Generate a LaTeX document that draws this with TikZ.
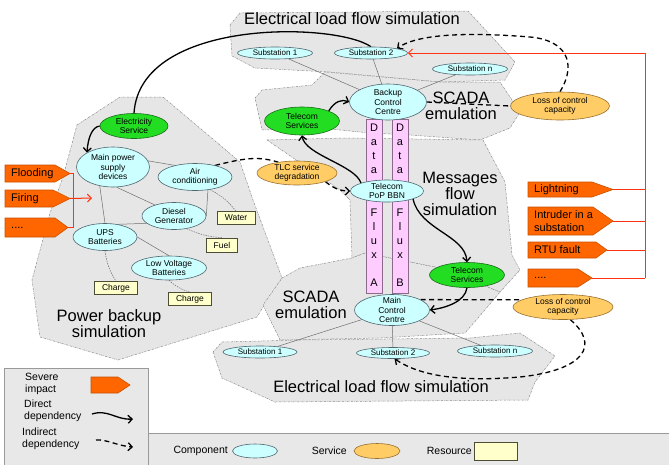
\documentclass[tikz,border=0pt]{standalone}
\usepackage{fontspec}
\setmainfont{Liberation Sans}
\usetikzlibrary{shapes.geometric,arrows.meta}

\definecolor{regionfill}{HTML}{E6E6E6}
\definecolor{regionline}{HTML}{8A8A8A}
\definecolor{compfill}{HTML}{CCFFFF}
\definecolor{compline}{HTML}{4F6670}
\definecolor{svcgreen}{HTML}{22DD22}
\definecolor{svcgreenline}{HTML}{1A6B1A}
\definecolor{svcorange}{HTML}{FFCC66}
\definecolor{svcorangeline}{HTML}{9A7030}
\definecolor{resfill}{HTML}{FFFFCC}
\definecolor{resline}{HTML}{4D4D33}
\definecolor{evtfill}{HTML}{FF6600}
\definecolor{evtline}{HTML}{C85000}
\definecolor{flowfill}{HTML}{FFCCFF}
\definecolor{flowline}{HTML}{8C6A8C}
\definecolor{threat}{HTML}{FF3311}
\definecolor{legfill}{HTML}{E8E8E8}
\definecolor{legline}{HTML}{999999}
\definecolor{linkgrey}{HTML}{6E6E6E}

\pgfdeclarelayer{regions}
\pgfdeclarelayer{links}
\pgfsetlayers{regions,links,main}

% threat event: name, left x, corner x, tip x, top y, bottom y, label
\newcommand\threatbox[7]{%
  \filldraw[evtbox] (#2,#5) -- (#3,#5) -- (#4,{(#5+#6)/2}) -- (#3,#6) -- (#2,#6) -- cycle;
  \node[evttext] (#1) at (#2+6,{(#5+#6)/2}) {#7};
  \coordinate (#1-tip) at (#4,{(#5+#6)/2});
}

\begin{document}
\begin{tikzpicture}[x=1pt,y=-1pt,
  region/.style={fill=regionfill, draw=regionline, line width=0.5pt, dash pattern=on 2pt off 1pt on 0.5pt off 1pt},
  regtitle/.style={font=\fontsize{16.5}{16}\selectfont, align=center, inner sep=0pt},
  comp/.style={ellipse, draw=compline, fill=compfill, line width=0.6pt, inner sep=-4pt, align=center, font=\fontsize{8.5}{9.5}\selectfont},
  subst/.style={comp, font=\fontsize{8}{9}\selectfont},
  greensvc/.style={comp, fill=svcgreen, draw=svcgreenline},
  orangesvc/.style={comp, fill=svcorange, draw=svcorangeline},
  resource/.style={rectangle, draw=resline, fill=resfill, line width=0.6pt, inner sep=0pt, font=\fontsize{8.5}{9.5}\selectfont},
  sz/.style 2 args={minimum width=#1pt, minimum height=#2pt},
  flowbar/.style={rectangle, draw=flowline, fill=flowfill, line width=0.6pt, inner sep=0pt},
  flowtext/.style={align=center, inner sep=0pt, font=\fontsize{11}{14}\selectfont},
  evtbox/.style={fill=evtfill, draw=evtline, line width=0.6pt},
  evttext/.style={anchor=west, align=left, inner sep=0pt, font=\fontsize{11}{12.5}\selectfont},
  link/.style={draw=linkgrey, line width=0.5pt},
  reslink/.style={draw=linkgrey, line width=0.5pt, dash pattern=on 1.5pt off 1pt},
  direct/.style={line width=1.3pt, -{Straight Barb[length=4pt,width=8pt]}},
  plaindirect/.style={line width=1.3pt},
  indirect/.style={line width=1.3pt, dash pattern=on 5pt off 3.5pt, -{Straight Barb[length=4pt,width=8pt]}},
  plainindirect/.style={line width=1.3pt, dash pattern=on 5pt off 3.5pt},
  threatline/.style={draw=threat, line width=1pt},
  legframe/.style={rectangle, draw=legline, fill=legfill, line width=0.8pt, inner sep=0pt},
  legtext/.style={anchor=west, align=left, inner sep=0pt, font=\fontsize{10.5}{12.5}\selectfont},
]
\useasboundingbox (0,0) rectangle (669,464);

% ---------- simulation domains ----------
\begin{pgfonlayer}{regions}
  % power backup
  \filldraw[region] (77,125) -- (120,97) -- (163,97) -- (240,162) -- (253,200) -- (282,278)
    -- (263,307) -- (257,317) -- (118,360) -- (40,337) -- (32,280) -- (50,213) -- (63,177) -- cycle;
  % electrical load flow (top)
  \filldraw[region] (230,25) -- (240,13) -- (468,11) -- (515,62) -- (505,80) -- (440,82)
    -- (330,72) -- (255,68) -- (232,56) -- cycle;
  % SCADA (top)
  \filldraw[region] (255,98) -- (262,90) -- (312,85) -- (325,72) -- (440,82) -- (500,82)
    -- (520,112) -- (510,128) -- (480,140) -- (410,135) -- (370,133) -- (320,128) -- (262,130) -- cycle;
  % messages flow
  \filldraw[region] (267,140) -- (345,138) -- (483,140) -- (505,182) -- (512,255) -- (520,270)
    -- (500,292) -- (440,268) -- (365,253) -- (352,258) -- (350,200) -- (340,190) -- cycle;
  % SCADA (bottom)
  \filldraw[region] (282,278) -- (300,268) -- (352,258) -- (365,253) -- (440,268) -- (500,292)
    -- (478,318) -- (465,333) -- (380,338) -- (280,340) -- (263,305) -- cycle;
  % electrical load flow (bottom)
  \filldraw[region] (213,352) -- (222,342) -- (300,340) -- (470,338) -- (520,333) -- (555,356)
    -- (535,382) -- (528,400) -- (275,402) -- (222,378) -- cycle;

  \node[regtitle] (ttop) at (352,19) {Electrical load flow simulation};
  \node[regtitle] (tscadau) at (461,106) {SCADA\\emulation};
  \node[regtitle] (tmsg) at (460,194) {Messages\\flow\\simulation};
  \node[regtitle] (tpower) at (109,324) {Power backup\\simulation};
  \node[regtitle] (tscadal) at (311,305) {SCADA\\emulation};
  \node[regtitle] (tbot) at (381,387) {Electrical load flow simulation};
\end{pgfonlayer}

% ---------- data flux columns ----------
\node[flowbar, sz={16}{174}] (fluxA) at (374,206) {};
\node[flowbar, sz={16}{174}] (fluxB) at (400,206) {};
\node[flowtext] (dataA) at (374,149) {D\\a\\t\\a};
\node[flowtext] (dataB) at (400,149) {D\\a\\t\\a};
\node[flowtext] (fxA) at (374,234) {F\\l\\u\\x};
\node[flowtext] (fxB) at (400,234) {F\\l\\u\\x};
\node[flowtext] (lblA) at (374,283) {A};
\node[flowtext] (lblB) at (400,283) {B};

% ---------- components ----------
\node[subst, sz={75}{12}] (s1t) at (275,53) {Substation 1};
\node[subst, sz={73}{12}] (s2t) at (371,53) {Substation 2};
\node[subst, sz={75}{12}] (snt) at (470,69) {Substation n};
\node[comp, sz={77}{36}] (bcc) at (388,102) {Backup\\Control\\Centre};
\node[comp, sz={73}{22}] (pop) at (387,191) {Telecom\\PoP BBN};
\node[comp, sz={75}{31}] (mcc) at (392,310) {Main\\Control\\Centre};
\node[subst, sz={74}{12}] (s1b) at (260,352) {Substation 1};
\node[subst, sz={73}{11}] (s2b) at (393,353) {Substation 2};
\node[subst, sz={75}{12}] (snb) at (495,351) {Substation n};

\node[comp, sz={73}{40}] (mpsd) at (113,167) {Main power\\supply\\devices};
\node[comp, sz={74}{27}] (airc) at (195,177) {Air\\conditioning};
\node[comp, sz={64}{27}] (dsl) at (174,216) {Diesel\\Generator};
\node[comp, sz={64}{27}] (ups) at (105,237) {UPS\\Batteries};
\node[comp, sz={75}{24}] (lvb) at (169,268) {Low Voltage\\Batteries};

% ---------- services ----------
\node[greensvc, sz={68}{25}] (elec) at (134,126) {Electricity\\Service};
\node[greensvc, sz={75}{28}] (tsu) at (302,121) {Telecom\\Services};
\node[greensvc, sz={75}{25}] (tsl) at (467,275) {Telecom\\Services};
\node[orangesvc, sz={80}{24}] (tlc) at (297,173) {TLC service\\degradation};
\node[orangesvc, sz={99}{28}] (lossu) at (560,106) {Loss of control\\capacity};
\node[orangesvc, sz={100}{25}] (lossl) at (563,307) {Loss of control\\capacity};

% ---------- resources ----------
\node[resource, sz={38}{13}] (water) at (236,218) {Water};
\node[resource, sz={31}{14}] (fuel) at (222,245) {Fuel};
\node[resource, sz={43}{13}] (chg1) at (116,288) {Charge};
\node[resource, sz={43}{13}] (chg2) at (190,299) {Charge};

% ---------- threat events ----------
\threatbox{flood}{5}{55}{70}{165}{182}{Flooding}
\threatbox{fire}{5}{53}{70}{190}{207}{Firing}
\threatbox{ldots}{5}{55}{68}{218}{237}{....}
\threatbox{light}{528}{592}{613}{182}{197}{Lightning}
\threatbox{intr}{528}{593}{613}{207}{235}{Intruder in a\\substation}
\threatbox{rtu}{528}{596}{607}{242}{258}{RTU fault}
\threatbox{rdots}{528}{578}{592}{269}{287}{....}

\coordinate (lbus) at (73,198);
\coordinate (lhit) at (92,198);
\coordinate (rtop) at (645,53);
\coordinate (rbot) at (645,278);

% ---------- connectors ----------
\begin{pgfonlayer}{links}
  % physical links
  \draw[link] (s1t) -- (bcc);
  \draw[link] (s2t) -- (bcc);
  \draw[link] (snt) -- (bcc);
  \draw[link] (mcc) -- (s1b);
  \draw[link] (mcc) -- (s2b);
  \draw[link] (mcc) -- (snb);
  \draw[link] (mpsd.10) -- (airc.150);
  \draw[link] (mpsd.-80) -- (dsl.150);
  \draw[link] (mpsd.235) -- (ups.north);
  \draw[link] (airc.-45) -- (dsl.east);
  \draw[link] (dsl.195) -- (ups.45);
  \draw[link] (ups.east) -- (lvb.north);
  % resource usage
  \draw[reslink] (airc.-40) to[bend left=12] (water.north);
  \draw[reslink] (dsl.-45) to[bend right=10] (fuel.north);
  \draw[reslink] (ups.south) to[bend right=12] (chg1.north);
  \draw[reslink] (lvb.south) to[bend right=12] (chg2.north);

  % direct dependencies
  \draw[plaindirect] (s2t.north) .. controls (335,22) and (140,18) .. (elec.north);
  \draw[direct] (elec.west) .. controls (92,127) and (88,138) .. (mpsd.north west);
  \draw[direct] (pop.north west) .. controls (355,165) and (305,155) .. (tsu.south);
  \draw[direct] (tsu.north east) .. controls (335,101) and (342,99) .. (bcc.west);
  \draw[direct] (pop.south east) .. controls (420,230) and (465,235) .. (tsl.north);
  \draw[direct] (tsl.south) .. controls (465,302) and (445,308) .. (mcc.east);

  % indirect dependencies
  \draw[indirect] (lossu.north) .. controls (578,62) and (565,40) .. (530,37)
    .. controls (480,33) and (420,32) .. (s2t.north east);
  \draw[plainindirect] (bcc.east) -- (lossu.west);
  \draw[plainindirect] (airc.30) .. controls (245,158) and (258,156) .. (tlc.150);
  \draw[indirect] (tlc.south east) .. controls (333,188) and (340,191) .. (pop.west);
  \draw[plainindirect] (mcc.20) -- (lossl.170);
  \draw[indirect] (lossl.-60) .. controls (600,345) and (585,370) .. (520,377)
    .. controls (460,382) and (420,376) .. (s2b.-75);

  % threat propagation
  \draw[threatline] (flood-tip) -- (flood-tip -| lbus) -- (ldots-tip -| lbus) -- (ldots-tip);
  \draw[threatline, -{Straight Barb[length=4pt,width=8pt]}] (fire-tip) -- (lhit);
  \draw[threatline] (rtop) -- (rbot);
  \draw[threatline, -{Straight Barb[length=4pt,width=8pt]}] (rtop) -- (s2t.east);
  \foreach \e in {light,intr,rtu,rdots}
    \draw[threatline] (\e-tip) -- (\e-tip -| rtop);
\end{pgfonlayer}

% ---------- legend ----------
\node[legframe, anchor=north west, sz={144}{100}] (legL) at (4,368) {};
\node[legframe, anchor=north west, sz={524}{34}] (legB) at (148,433) {};
\node[legtext] (lgsev) at (25,384) {Severe\\impact};
\threatbox{lgevt}{91}{118}{130}{377}{393}{}
\node[legtext] (lgdir) at (24,411) {Direct\\dependency};
\coordinate (ldA) at (92,414);
\coordinate (ldB) at (133,419);
\draw[direct] (ldA) .. controls (108,409) and (116,420) .. (ldB);
\node[legtext] (lgind) at (22,439) {Indirect\\dependency};
\coordinate (liA) at (96,440);
\coordinate (liB) at (133,447);
\draw[indirect] (liA) .. controls (106,439) and (118,446) .. (liB);

\node[legtext, anchor=east] (lgcomp) at (228,451) {Component};
\node[comp, sz={45}{14}] (lgcompshape) at (255,451) {};
\node[legtext, anchor=east] (lgsvc) at (347,451) {Service};
\node[orangesvc, sz={46}{15}] (lgsvcshape) at (377,451) {};
\node[legtext, anchor=east] (lgres) at (472,451) {Resource};
\node[resource, sz={43}{18}] (lgresshape) at (496,451) {};
\end{tikzpicture}
\end{document}
